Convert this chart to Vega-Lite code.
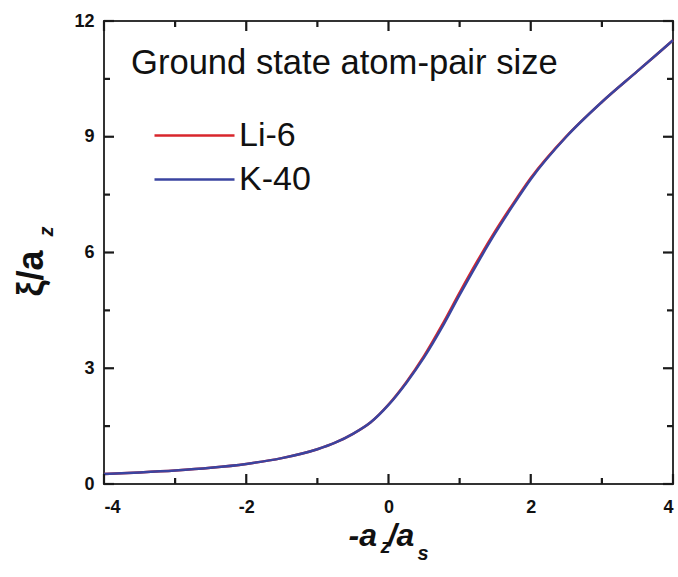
{
  "$schema": "https://vega.github.io/schema/vega-lite/v6.json",
  "width": 569,
  "height": 463,
  "autosize": "none",
  "padding": {"left": 104, "top": 21, "right": 5, "bottom": 93},
  "background": "white",
  "config": {
    "view": {"stroke": "#333333", "strokeWidth": 2},
    "font": "Liberation Sans",
    "axis": {
      "grid": false,
      "domain": false,
      "ticks": false,
      "labelFont": "Liberation Sans",
      "labelFontWeight": "bold",
      "labelFontSize": 18,
      "labelColor": "#111111",
      "titleFont": "Liberation Sans",
      "titleColor": "#111111",
      "titleFontWeight": "bold"
    },
    "tick": {"color": "#1a1a1a", "opacity": 1}
  },
  "datasets": {
    "curve": [
      {"series": "Li-6", "x": -4, "y": 0.26},
      {"series": "Li-6", "x": -3.5, "y": 0.3},
      {"series": "Li-6", "x": -3, "y": 0.35},
      {"series": "Li-6", "x": -2.5, "y": 0.42},
      {"series": "Li-6", "x": -2, "y": 0.52},
      {"series": "Li-6", "x": -1.5, "y": 0.67},
      {"series": "Li-6", "x": -1, "y": 0.9},
      {"series": "Li-6", "x": -0.75, "y": 1.07},
      {"series": "Li-6", "x": -0.5, "y": 1.3},
      {"series": "Li-6", "x": -0.25, "y": 1.6},
      {"series": "Li-6", "x": 0, "y": 2.06},
      {"series": "Li-6", "x": 0.25, "y": 2.64},
      {"series": "Li-6", "x": 0.5, "y": 3.32},
      {"series": "Li-6", "x": 0.75, "y": 4.11},
      {"series": "Li-6", "x": 1, "y": 4.96},
      {"series": "Li-6", "x": 1.25, "y": 5.78},
      {"series": "Li-6", "x": 1.5, "y": 6.55},
      {"series": "Li-6", "x": 1.75, "y": 7.26},
      {"series": "Li-6", "x": 2, "y": 7.93},
      {"series": "Li-6", "x": 2.5, "y": 9.01},
      {"series": "Li-6", "x": 3, "y": 9.9},
      {"series": "Li-6", "x": 3.5, "y": 10.7},
      {"series": "Li-6", "x": 4, "y": 11.5},
      {"series": "K-40", "x": -4, "y": 0.26},
      {"series": "K-40", "x": -3.5, "y": 0.3},
      {"series": "K-40", "x": -3, "y": 0.35},
      {"series": "K-40", "x": -2.5, "y": 0.42},
      {"series": "K-40", "x": -2, "y": 0.52},
      {"series": "K-40", "x": -1.5, "y": 0.67},
      {"series": "K-40", "x": -1, "y": 0.9},
      {"series": "K-40", "x": -0.75, "y": 1.07},
      {"series": "K-40", "x": -0.5, "y": 1.3},
      {"series": "K-40", "x": -0.25, "y": 1.6},
      {"series": "K-40", "x": 0, "y": 2.05},
      {"series": "K-40", "x": 0.25, "y": 2.62},
      {"series": "K-40", "x": 0.5, "y": 3.28},
      {"series": "K-40", "x": 0.75, "y": 4.05},
      {"series": "K-40", "x": 1, "y": 4.9},
      {"series": "K-40", "x": 1.25, "y": 5.72},
      {"series": "K-40", "x": 1.5, "y": 6.5},
      {"series": "K-40", "x": 1.75, "y": 7.22},
      {"series": "K-40", "x": 2, "y": 7.9},
      {"series": "K-40", "x": 2.5, "y": 9.0},
      {"series": "K-40", "x": 3, "y": 9.9},
      {"series": "K-40", "x": 3.5, "y": 10.7},
      {"series": "K-40", "x": 4, "y": 11.5}
    ],
    "xticks": [
      {"v": -4, "k": "major"}, {"v": -3, "k": "minor"}, {"v": -2, "k": "major"}, {"v": -1, "k": "minor"},
      {"v": 0, "k": "major"}, {"v": 1, "k": "minor"}, {"v": 2, "k": "major"}, {"v": 3, "k": "minor"}, {"v": 4, "k": "major"}
    ],
    "yticks": [
      {"v": 0, "k": "major"}, {"v": 1.5, "k": "minor"}, {"v": 3, "k": "major"}, {"v": 4.5, "k": "minor"},
      {"v": 6, "k": "major"}, {"v": 7.5, "k": "minor"}, {"v": 9, "k": "major"}, {"v": 10.5, "k": "minor"}, {"v": 12, "k": "major"}
    ]
  },
  "layer": [
    {
      "data": {"name": "curve"},
      "mark": {"type": "line", "strokeWidth": 2.5, "interpolate": "monotone"},
      "encoding": {
        "x": {
          "field": "x", "type": "quantitative",
          "scale": {"domain": [-4, 4], "nice": false, "zero": false},
          "axis": {
            "orient": "bottom", "values": [-4, -2, 0, 2, 4],
            "labelPadding": 14, "labelExpr": "'' + datum.value",
            "title": "-a\u2004/a", "titleFontSize": 32, "titleFontStyle": "italic",
            "titleX": 244, "titleY": 61, "titleAlign": "left", "titleBaseline": "alphabetic", "titleAngle": 0
          }
        },
        "y": {
          "field": "y", "type": "quantitative",
          "scale": {"domain": [0, 12], "nice": false},
          "axis": {
            "orient": "left", "values": [0, 3, 6, 9, 12],
            "labelPadding": 10,
            "title": "\u03be/a", "titleFontSize": 36,
            "titleX": -62, "titleY": 275, "titleAlign": "left", "titleBaseline": "alphabetic", "titleAngle": -90
          }
        },
        "color": {
          "field": "series", "type": "nominal",
          "scale": {"domain": ["Li-6", "K-40"], "range": ["#d8262c", "#3a44a0"]},
          "legend": {
            "orient": "none", "legendX": 27, "legendY": 26, "padding": 0,
            "title": "Ground state atom-pair size", "titleFontSize": 34.6, "titleFontWeight": "normal",
            "titleFont": "Liberation Sans", "titleColor": "#111111", "titleLimit": 1000, "titlePadding": 32,
            "symbolType": "stroke", "symbolSize": 6400, "symbolStrokeWidth": 2.5, "symbolOffset": 22,
            "labelFontSize": 34, "labelFont": "Liberation Sans", "labelColor": "#111111", "labelOffset": 3,
            "rowPadding": 0, "clipHeight": 44, "labelLimit": 300
          }
        }
      }
    },
    {
      "data": {"name": "xticks"},
      "transform": [{"filter": "datum.k == 'major'"}],
      "mark": {"type": "tick", "orient": "vertical", "size": 10, "thickness": 2.2, "yOffset": -5},
      "encoding": {
        "x": {
          "field": "v", "type": "quantitative",
          "axis": {
            "orient": "bottom", "labels": false,
            "title": "z", "titleFontSize": 20, "titleFontStyle": "italic",
            "titleX": 276, "titleY": 68, "titleAlign": "left", "titleBaseline": "alphabetic", "titleAngle": 0
          }
        },
        "y": {"datum": 0, "type": "quantitative", "axis": null}
      }
    },
    {
      "data": {"name": "xticks"},
      "transform": [{"filter": "datum.k == 'minor'"}],
      "mark": {"type": "tick", "orient": "vertical", "size": 6, "thickness": 2.2, "yOffset": -3},
      "encoding": {
        "x": {
          "field": "v", "type": "quantitative",
          "axis": {
            "orient": "top", "labels": false,
            "title": "s", "titleFontSize": 20, "titleFontStyle": "italic",
            "titleX": 313, "titleY": 538, "titleAlign": "left", "titleBaseline": "alphabetic", "titleAngle": 0
          }
        },
        "y": {"datum": 0, "type": "quantitative", "axis": null}
      }
    },
    {
      "data": {"name": "xticks"},
      "transform": [{"filter": "datum.k == 'major'"}],
      "mark": {"type": "tick", "orient": "vertical", "size": 10, "thickness": 2.2, "yOffset": 5},
      "encoding": {
        "x": {"field": "v", "type": "quantitative", "axis": null},
        "y": {"datum": 12, "type": "quantitative", "axis": null}
      }
    },
    {
      "data": {"name": "xticks"},
      "transform": [{"filter": "datum.k == 'minor'"}],
      "mark": {"type": "tick", "orient": "vertical", "size": 6, "thickness": 2.2, "yOffset": 3},
      "encoding": {
        "x": {"field": "v", "type": "quantitative", "axis": null},
        "y": {"datum": 12, "type": "quantitative", "axis": null}
      }
    },
    {
      "data": {"name": "yticks"},
      "transform": [{"filter": "datum.k == 'major'"}],
      "mark": {"type": "tick", "orient": "horizontal", "size": 10, "thickness": 2.2, "xOffset": 5},
      "encoding": {
        "y": {
          "field": "v", "type": "quantitative",
          "axis": {
            "orient": "left", "labels": false,
            "title": "z", "titleFontSize": 20, "titleFontStyle": "italic",
            "titleX": -52, "titleY": 215, "titleAlign": "left", "titleBaseline": "alphabetic", "titleAngle": -90
          }
        },
        "x": {"datum": -4, "type": "quantitative", "axis": null}
      }
    },
    {
      "data": {"name": "yticks"},
      "transform": [{"filter": "datum.k == 'minor'"}],
      "mark": {"type": "tick", "orient": "horizontal", "size": 6, "thickness": 2.2, "xOffset": 3},
      "encoding": {
        "y": {"field": "v", "type": "quantitative", "axis": null},
        "x": {"datum": -4, "type": "quantitative", "axis": null}
      }
    },
    {
      "data": {"name": "yticks"},
      "transform": [{"filter": "datum.k == 'major'"}],
      "mark": {"type": "tick", "orient": "horizontal", "size": 10, "thickness": 2.2, "xOffset": -5},
      "encoding": {
        "y": {"field": "v", "type": "quantitative", "axis": null},
        "x": {"datum": 4, "type": "quantitative", "axis": null}
      }
    },
    {
      "data": {"name": "yticks"},
      "transform": [{"filter": "datum.k == 'minor'"}],
      "mark": {"type": "tick", "orient": "horizontal", "size": 6, "thickness": 2.2, "xOffset": -3},
      "encoding": {
        "y": {"field": "v", "type": "quantitative", "axis": null},
        "x": {"datum": 4, "type": "quantitative", "axis": null}
      }
    }
  ],
  "resolve": {"axis": {"x": "independent", "y": "independent"}}
}
